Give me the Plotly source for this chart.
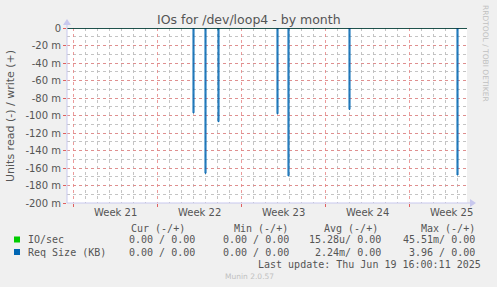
import plotly.graph_objects as go
from datetime import datetime, timedelta

# ---- data ----
spike_times = ["2025-05-28 00:00", "2025-05-29 00:00", "2025-05-30 02:00",
               "2025-06-04 00:00", "2025-06-04 22:00", "2025-06-10 00:00",
               "2025-06-19 00:00"]
req_size_read = [-97, -166, -107, -98, -169, -93, -168]   # in milli units
io_times = ["2025-05-30 02:00"]
io_read = [-2]                                            # in milli units
week_labels = ["Week 21", "Week 22", "Week 23", "Week 24", "Week 25"]
week_starts = ["2025-05-18", "2025-05-25", "2025-06-01", "2025-06-08", "2025-06-15"]
y_ticks = list(range(-200, 1, 20))
y_ticktext = [("%d m" % v) if v != 0 else "0" for v in y_ticks]

legend_header = ["Cur (-/+)", "Min (-/+)", "Avg (-/+)", "Max (-/+)"]
legend_rows = [
    ("IO/sec", "#00cc00", ["0.00 / 0.00", "0.00 / 0.00", "15.28u/ 0.00", "45.51m/ 0.00"]),
    ("Req Size (KB)", "#0066b3", ["0.00 / 0.00", "0.00 / 0.00", "2.24m/ 0.00", "3.96 / 0.00"]),
]
last_update = "Last update: Thu Jun 19 16:00:11 2025"

x_start = "2025-05-17 12:00"
x_end = "2025-06-19 20:00"

W, H = 497, 287
L, R, T, B = 67, 467, 28, 203


def px(x):
    return (x - L) / (R - L)


def py(y):
    return (B - y) / (B - T)


def step_series(times, vals, width_h=2):
    xs = [x_start]
    ys = [0]
    for t, v in zip(times, vals):
        t0 = datetime.strptime(t, "%Y-%m-%d %H:%M")
        t1 = t0 + timedelta(hours=width_h)
        xs += [t0, t0, t1, t1]
        ys += [0, v, v, 0]
    xs.append(x_end)
    ys.append(0)
    return xs, ys


fig = go.Figure()
gx, gy = step_series(io_times, io_read, 1)
fig.add_trace(go.Scatter(x=gx, y=gy, mode="lines", line=dict(color="#00cc00", width=1),
                         hoverinfo="skip", showlegend=False))
bx, by = step_series(spike_times, req_size_read, 2)
fig.add_trace(go.Scatter(x=bx, y=by, mode="lines", line=dict(color="#0066b3", width=1),
                         fill="tozeroy", fillcolor="rgba(0,102,179,0.4)",
                         hoverinfo="skip", showlegend=False))

grid_red = "rgba(230,130,130,0.8)"
grid_gray = "rgba(190,190,190,0.9)"

fig.update_layout(
    width=W, height=H,
    margin=dict(l=L, r=W - R, t=T, b=H - B),
    paper_bgcolor="#f0f0f0", plot_bgcolor="#ffffff",
    font=dict(family="DejaVu Sans", size=10, color="#555555"),
    xaxis=dict(type="date", range=[x_start, x_end], showticklabels=False,
               tick0="2025-05-18", dtick=7 * 86400000,
               showgrid=True, gridcolor=grid_red, griddash="dot", gridwidth=1,
               ticks="outside", ticklen=3, tickcolor="#e06060",
               minor=dict(tick0="2025-05-18", dtick=86400000, showgrid=True,
                          gridcolor=grid_gray, griddash="dot", ticks=""),
               zeroline=False, showline=False, fixedrange=True),
    yaxis=dict(range=[-200, 0], tickvals=y_ticks, ticktext=y_ticktext,
               showgrid=True, gridcolor=grid_red, griddash="dot", gridwidth=1,
               ticks="outside", ticklen=3, tickcolor="#e06060",
               minor=dict(dtick=10, showgrid=True, gridcolor=grid_gray, griddash="dot"),
               zeroline=False, showline=False, tickfont=dict(size=10, color="#555555"),
               fixedrange=True),
)

shapes = []
# zero line (black) at top
shapes.append(dict(type="line", xref="paper", yref="y", x0=0, x1=1, y0=0, y1=0,
                   line=dict(color="#000000", width=1), layer="above"))
# axis lines with arrows
axis_col = "#c8c8ee"
shapes.append(dict(type="line", xref="paper", yref="paper", x0=0, x1=0, y0=0, y1=py(24),
                   line=dict(color=axis_col, width=1), layer="above"))
shapes.append(dict(type="line", xref="paper", yref="paper", x0=0, x1=px(471), y0=0, y1=0,
                   line=dict(color=axis_col, width=1), layer="above"))
shapes.append(dict(type="path", xref="paper", yref="paper",
                   path="M %f %f L %f %f L %f %f Z" % (px(63), py(25), px(71), py(25), px(67), py(19)),
                   fillcolor=axis_col, line=dict(width=0), layer="above"))
shapes.append(dict(type="path", xref="paper", yref="paper",
                   path="M %f %f L %f %f L %f %f Z" % (px(470), py(199), px(470), py(207), px(476), py(203)),
                   fillcolor=axis_col, line=dict(width=0), layer="above"))

ann = []
ann.append(dict(text="IOs for /dev/loop4 - by month", x=px(249), y=py(20), xref="paper", yref="paper",
                showarrow=False, font=dict(size=12.5, color="#555555"), xanchor="center", yanchor="middle"))
ann.append(dict(text="Units read (-) / write (+)", x=px(10), y=py(116), xref="paper", yref="paper",
                showarrow=False, textangle=-90, font=dict(size=11, color="#555555"),
                xanchor="center", yanchor="middle"))
ann.append(dict(text="RRDTOOL / TOBI OETIKER", x=px(486), y=py(53), xref="paper", yref="paper",
                showarrow=False, textangle=90, font=dict(size=7.5, color="#c0c0c0"),
                xanchor="center", yanchor="middle"))
for lbl, ws in zip(week_labels, week_starts):
    mid = datetime.strptime(ws, "%Y-%m-%d") + timedelta(days=3.5)
    ann.append(dict(text=lbl, x=mid, y=py(212), xref="x", yref="paper", showarrow=False,
                    font=dict(size=10, color="#555555"), xanchor="center", yanchor="middle"))

mono = "DejaVu Sans Mono"
hdr_right = [187, 290, 380, 477]
val_right = [197, 291, 383, 477]
for h, xr in zip(legend_header, hdr_right):
    ann.append(dict(text=h, x=px(xr), y=py(228), xref="paper", yref="paper", showarrow=False,
                    font=dict(family=mono, size=10, color="#555555"), xanchor="right", yanchor="middle"))
for i, (name, col, vals) in enumerate(legend_rows):
    yy = 239.5 + i * 12.5
    ann.append(dict(text=name, x=px(26), y=py(yy), xref="paper", yref="paper", showarrow=False,
                    font=dict(family=mono, size=10, color="#555555"), xanchor="left", yanchor="middle"))
    for v, xr in zip(vals, val_right):
        ann.append(dict(text=v, x=px(xr), y=py(yy), xref="paper", yref="paper", showarrow=False,
                        font=dict(family=mono, size=10, color="#555555"), xanchor="right", yanchor="middle"))
    shapes.append(dict(type="rect", xref="paper", yref="paper", x0=px(14), x1=px(20),
                       y0=py(yy + 3), y1=py(yy - 3), fillcolor=col, line=dict(width=0)))
ann.append(dict(text=last_update, x=px(483), y=py(264.5), xref="paper", yref="paper", showarrow=False,
                font=dict(family=mono, size=10, color="#555555"), xanchor="right", yanchor="middle"))
ann.append(dict(text="Munin 2.0.57", x=px(249), y=py(276), xref="paper", yref="paper", showarrow=False,
                font=dict(size=7.5, color="#c0c0c0"), xanchor="center", yanchor="middle"))
fig.update_layout(annotations=ann, shapes=shapes)

fig.write_html("out.html")
